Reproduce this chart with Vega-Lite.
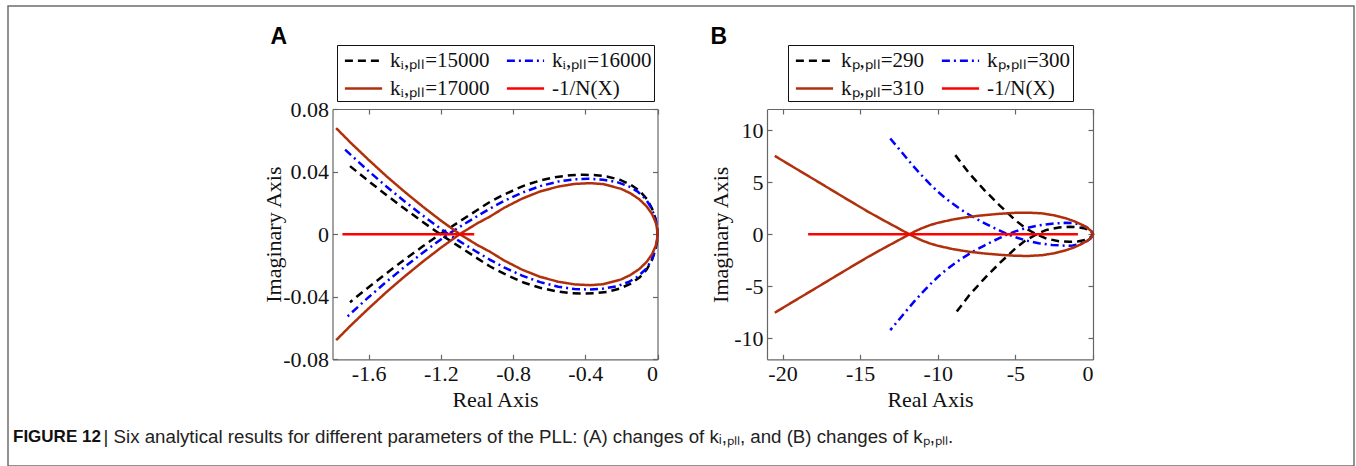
{
"$schema": "https://vega.github.io/schema/vega-lite/v6.json",
"width": 1346, "height": 460,
"autosize": "none",
"padding": {"left": 8, "top": 6, "right": 2, "bottom": 0},
"background": "white",
"title": {"text": "FIGURE 12", "orient": "bottom", "anchor": "start", "frame": "group", "offset": 0, "dx": 5, "dy": -24, "baseline": "alphabetic", "font": "Liberation Sans", "fontSize": 17, "fontWeight": "bold", "color": "#111"},
"config": {
  "view": {"stroke": "#6e6e6e", "strokeWidth": 1.5},
  "axis": {"grid": false, "domainColor": "#666", "domainWidth": 1.2, "tickColor": "#666", "tickWidth": 1.2, "tickSize": -5, "labelFont": "Liberation Serif", "labelFontSize": 22, "labelColor": "#111", "titleFont": "Liberation Serif", "titleFontSize": 22, "titleFontWeight": "normal", "titleColor": "#111"},
  "legend": {"symbolType": "M-1.55,0H1.55", "symbolSize": 576, "symbolStrokeWidth": 2.5, "symbolOffset": 11, "labelFont": "Liberation Serif", "labelFontSize": 21, "labelColor": "#111", "labelOffset": 13, "columnPadding": 11, "rowPadding": 4, "padding": 2, "strokeColor": "#111", "fillColor": "white", "labelLimit": 400, "direction": "horizontal"}
},
"datasets": {
"a": [
{"s":"kᵢ,ₚₗₗ=15000","i":1,"x":-1.703,"y":0.0435},{"s":"kᵢ,ₚₗₗ=15000","i":2,"x":-1.6,"y":0.0339},{"s":"kᵢ,ₚₗₗ=15000","i":3,"x":-1.5,"y":0.0249},{"s":"kᵢ,ₚₗₗ=15000","i":4,"x":-1.4,"y":0.0162},{"s":"kᵢ,ₚₗₗ=15000","i":5,"x":-1.3,"y":0.0078},{"s":"kᵢ,ₚₗₗ=15000","i":6,"x":-1.204,"y":0},{"s":"kᵢ,ₚₗₗ=15000","i":7,"x":-1.1,"y":-0.0078},{"s":"kᵢ,ₚₗₗ=15000","i":8,"x":-1,"y":-0.0153},{"s":"kᵢ,ₚₗₗ=15000","i":9,"x":-0.927,"y":-0.0207},{"s":"kᵢ,ₚₗₗ=15000","i":10,"x":-0.85,"y":-0.0253},{"s":"kᵢ,ₚₗₗ=15000","i":11,"x":-0.742,"y":-0.0309},{"s":"kᵢ,ₚₗₗ=15000","i":12,"x":-0.65,"y":-0.0343},{"s":"kᵢ,ₚₗₗ=15000","i":13,"x":-0.558,"y":-0.0366},{"s":"kᵢ,ₚₗₗ=15000","i":14,"x":-0.48,"y":-0.0377},{"s":"kᵢ,ₚₗₗ=15000","i":15,"x":-0.41,"y":-0.038},{"s":"kᵢ,ₚₗₗ=15000","i":16,"x":-0.34,"y":-0.0377},{"s":"kᵢ,ₚₗₗ=15000","i":17,"x":-0.281,"y":-0.0369},{"s":"kᵢ,ₚₗₗ=15000","i":18,"x":-0.21,"y":-0.0348},{"s":"kᵢ,ₚₗₗ=15000","i":19,"x":-0.151,"y":-0.0318},{"s":"kᵢ,ₚₗₗ=15000","i":20,"x":-0.1,"y":-0.0278},{"s":"kᵢ,ₚₗₗ=15000","i":21,"x":-0.059,"y":-0.0225},{"s":"kᵢ,ₚₗₗ=15000","i":22,"x":-0.03,"y":-0.0163},{"s":"kᵢ,ₚₗₗ=15000","i":23,"x":-0.012,"y":-0.0103},{"s":"kᵢ,ₚₗₗ=15000","i":24,"x":-0.003,"y":-0.005},{"s":"kᵢ,ₚₗₗ=15000","i":25,"x":0,"y":0},{"s":"kᵢ,ₚₗₗ=15000","i":26,"x":-0.003,"y":0.005},{"s":"kᵢ,ₚₗₗ=15000","i":27,"x":-0.012,"y":0.0103},{"s":"kᵢ,ₚₗₗ=15000","i":28,"x":-0.03,"y":0.0163},{"s":"kᵢ,ₚₗₗ=15000","i":29,"x":-0.059,"y":0.0225},{"s":"kᵢ,ₚₗₗ=15000","i":30,"x":-0.1,"y":0.0278},{"s":"kᵢ,ₚₗₗ=15000","i":31,"x":-0.151,"y":0.0318},{"s":"kᵢ,ₚₗₗ=15000","i":32,"x":-0.21,"y":0.0348},{"s":"kᵢ,ₚₗₗ=15000","i":33,"x":-0.281,"y":0.0369},{"s":"kᵢ,ₚₗₗ=15000","i":34,"x":-0.34,"y":0.0377},{"s":"kᵢ,ₚₗₗ=15000","i":35,"x":-0.41,"y":0.038},{"s":"kᵢ,ₚₗₗ=15000","i":36,"x":-0.48,"y":0.0377},{"s":"kᵢ,ₚₗₗ=15000","i":37,"x":-0.558,"y":0.0366},{"s":"kᵢ,ₚₗₗ=15000","i":38,"x":-0.65,"y":0.0343},{"s":"kᵢ,ₚₗₗ=15000","i":39,"x":-0.742,"y":0.0309},{"s":"kᵢ,ₚₗₗ=15000","i":40,"x":-0.85,"y":0.0253},{"s":"kᵢ,ₚₗₗ=15000","i":41,"x":-0.927,"y":0.0207},{"s":"kᵢ,ₚₗₗ=15000","i":42,"x":-1,"y":0.0153},{"s":"kᵢ,ₚₗₗ=15000","i":43,"x":-1.1,"y":0.0078},{"s":"kᵢ,ₚₗₗ=15000","i":44,"x":-1.204,"y":0},{"s":"kᵢ,ₚₗₗ=15000","i":45,"x":-1.3,"y":-0.0078},{"s":"kᵢ,ₚₗₗ=15000","i":46,"x":-1.4,"y":-0.0162},{"s":"kᵢ,ₚₗₗ=15000","i":47,"x":-1.5,"y":-0.0249},{"s":"kᵢ,ₚₗₗ=15000","i":48,"x":-1.6,"y":-0.0339},{"s":"kᵢ,ₚₗₗ=15000","i":49,"x":-1.703,"y":-0.0435},
{"s":"kᵢ,ₚₗₗ=16000","i":1,"x":-1.73,"y":0.054},{"s":"kᵢ,ₚₗₗ=16000","i":2,"x":-1.6,"y":0.0403},{"s":"kᵢ,ₚₗₗ=16000","i":3,"x":-1.5,"y":0.0303},{"s":"kᵢ,ₚₗₗ=16000","i":4,"x":-1.4,"y":0.0209},{"s":"kᵢ,ₚₗₗ=16000","i":5,"x":-1.3,"y":0.0119},{"s":"kᵢ,ₚₗₗ=16000","i":6,"x":-1.2,"y":0.0034},{"s":"kᵢ,ₚₗₗ=16000","i":7,"x":-1.158,"y":0},{"s":"kᵢ,ₚₗₗ=16000","i":8,"x":-1.1,"y":-0.0043},{"s":"kᵢ,ₚₗₗ=16000","i":9,"x":-1,"y":-0.0114},{"s":"kᵢ,ₚₗₗ=16000","i":10,"x":-0.927,"y":-0.0164},{"s":"kᵢ,ₚₗₗ=16000","i":11,"x":-0.85,"y":-0.0212},{"s":"kᵢ,ₚₗₗ=16000","i":12,"x":-0.75,"y":-0.0265},{"s":"kᵢ,ₚₗₗ=16000","i":13,"x":-0.65,"y":-0.0307},{"s":"kᵢ,ₚₗₗ=16000","i":14,"x":-0.55,"y":-0.0336},{"s":"kᵢ,ₚₗₗ=16000","i":15,"x":-0.46,"y":-0.0351},{"s":"kᵢ,ₚₗₗ=16000","i":16,"x":-0.38,"y":-0.0354},{"s":"kᵢ,ₚₗₗ=16000","i":17,"x":-0.3,"y":-0.0348},{"s":"kᵢ,ₚₗₗ=16000","i":18,"x":-0.225,"y":-0.0333},{"s":"kᵢ,ₚₗₗ=16000","i":19,"x":-0.16,"y":-0.0306},{"s":"kᵢ,ₚₗₗ=16000","i":20,"x":-0.11,"y":-0.0272},{"s":"kᵢ,ₚₗₗ=16000","i":21,"x":-0.065,"y":-0.0224},{"s":"kᵢ,ₚₗₗ=16000","i":22,"x":-0.033,"y":-0.0166},{"s":"kᵢ,ₚₗₗ=16000","i":23,"x":-0.012,"y":-0.01},{"s":"kᵢ,ₚₗₗ=16000","i":24,"x":-0.003,"y":-0.005},{"s":"kᵢ,ₚₗₗ=16000","i":25,"x":0,"y":0},{"s":"kᵢ,ₚₗₗ=16000","i":26,"x":-0.003,"y":0.005},{"s":"kᵢ,ₚₗₗ=16000","i":27,"x":-0.012,"y":0.01},{"s":"kᵢ,ₚₗₗ=16000","i":28,"x":-0.033,"y":0.0166},{"s":"kᵢ,ₚₗₗ=16000","i":29,"x":-0.065,"y":0.0224},{"s":"kᵢ,ₚₗₗ=16000","i":30,"x":-0.11,"y":0.0272},{"s":"kᵢ,ₚₗₗ=16000","i":31,"x":-0.16,"y":0.0306},{"s":"kᵢ,ₚₗₗ=16000","i":32,"x":-0.225,"y":0.0333},{"s":"kᵢ,ₚₗₗ=16000","i":33,"x":-0.3,"y":0.0348},{"s":"kᵢ,ₚₗₗ=16000","i":34,"x":-0.38,"y":0.0354},{"s":"kᵢ,ₚₗₗ=16000","i":35,"x":-0.46,"y":0.0351},{"s":"kᵢ,ₚₗₗ=16000","i":36,"x":-0.55,"y":0.0336},{"s":"kᵢ,ₚₗₗ=16000","i":37,"x":-0.65,"y":0.0307},{"s":"kᵢ,ₚₗₗ=16000","i":38,"x":-0.75,"y":0.0265},{"s":"kᵢ,ₚₗₗ=16000","i":39,"x":-0.85,"y":0.0212},{"s":"kᵢ,ₚₗₗ=16000","i":40,"x":-0.927,"y":0.0164},{"s":"kᵢ,ₚₗₗ=16000","i":41,"x":-1,"y":0.0114},{"s":"kᵢ,ₚₗₗ=16000","i":42,"x":-1.1,"y":0.0043},{"s":"kᵢ,ₚₗₗ=16000","i":43,"x":-1.158,"y":0},{"s":"kᵢ,ₚₗₗ=16000","i":44,"x":-1.2,"y":-0.0034},{"s":"kᵢ,ₚₗₗ=16000","i":45,"x":-1.3,"y":-0.0119},{"s":"kᵢ,ₚₗₗ=16000","i":46,"x":-1.4,"y":-0.0209},{"s":"kᵢ,ₚₗₗ=16000","i":47,"x":-1.5,"y":-0.0303},{"s":"kᵢ,ₚₗₗ=16000","i":48,"x":-1.6,"y":-0.0403},{"s":"kᵢ,ₚₗₗ=16000","i":49,"x":-1.73,"y":-0.054},
{"s":"kᵢ,ₚₗₗ=17000","i":1,"x":-1.78,"y":0.0678},{"s":"kᵢ,ₚₗₗ=17000","i":2,"x":-1.7,"y":0.0585},{"s":"kᵢ,ₚₗₗ=17000","i":3,"x":-1.6,"y":0.0475},{"s":"kᵢ,ₚₗₗ=17000","i":4,"x":-1.5,"y":0.0369},{"s":"kᵢ,ₚₗₗ=17000","i":5,"x":-1.4,"y":0.027},{"s":"kᵢ,ₚₗₗ=17000","i":6,"x":-1.3,"y":0.0176},{"s":"kᵢ,ₚₗₗ=17000","i":7,"x":-1.2,"y":0.0087},{"s":"kᵢ,ₚₗₗ=17000","i":8,"x":-1.095,"y":0},{"s":"kᵢ,ₚₗₗ=17000","i":9,"x":-1,"y":-0.0068},{"s":"kᵢ,ₚₗₗ=17000","i":10,"x":-0.927,"y":-0.0113},{"s":"kᵢ,ₚₗₗ=17000","i":11,"x":-0.85,"y":-0.0168},{"s":"kᵢ,ₚₗₗ=17000","i":12,"x":-0.75,"y":-0.0227},{"s":"kᵢ,ₚₗₗ=17000","i":13,"x":-0.65,"y":-0.0273},{"s":"kᵢ,ₚₗₗ=17000","i":14,"x":-0.55,"y":-0.0304},{"s":"kᵢ,ₚₗₗ=17000","i":15,"x":-0.46,"y":-0.0321},{"s":"kᵢ,ₚₗₗ=17000","i":16,"x":-0.373,"y":-0.0326},{"s":"kᵢ,ₚₗₗ=17000","i":17,"x":-0.3,"y":-0.032},{"s":"kᵢ,ₚₗₗ=17000","i":18,"x":-0.2,"y":-0.0289},{"s":"kᵢ,ₚₗₗ=17000","i":19,"x":-0.15,"y":-0.0261},{"s":"kᵢ,ₚₗₗ=17000","i":20,"x":-0.1,"y":-0.0222},{"s":"kᵢ,ₚₗₗ=17000","i":21,"x":-0.06,"y":-0.0177},{"s":"kᵢ,ₚₗₗ=17000","i":22,"x":-0.03,"y":-0.0128},{"s":"kᵢ,ₚₗₗ=17000","i":23,"x":-0.01,"y":-0.0075},{"s":"kᵢ,ₚₗₗ=17000","i":24,"x":-0.002,"y":-0.0035},{"s":"kᵢ,ₚₗₗ=17000","i":25,"x":0,"y":0},{"s":"kᵢ,ₚₗₗ=17000","i":26,"x":-0.002,"y":0.0035},{"s":"kᵢ,ₚₗₗ=17000","i":27,"x":-0.01,"y":0.0075},{"s":"kᵢ,ₚₗₗ=17000","i":28,"x":-0.03,"y":0.0128},{"s":"kᵢ,ₚₗₗ=17000","i":29,"x":-0.06,"y":0.0177},{"s":"kᵢ,ₚₗₗ=17000","i":30,"x":-0.1,"y":0.0222},{"s":"kᵢ,ₚₗₗ=17000","i":31,"x":-0.15,"y":0.0261},{"s":"kᵢ,ₚₗₗ=17000","i":32,"x":-0.2,"y":0.0289},{"s":"kᵢ,ₚₗₗ=17000","i":33,"x":-0.3,"y":0.032},{"s":"kᵢ,ₚₗₗ=17000","i":34,"x":-0.373,"y":0.0326},{"s":"kᵢ,ₚₗₗ=17000","i":35,"x":-0.46,"y":0.0321},{"s":"kᵢ,ₚₗₗ=17000","i":36,"x":-0.55,"y":0.0304},{"s":"kᵢ,ₚₗₗ=17000","i":37,"x":-0.65,"y":0.0273},{"s":"kᵢ,ₚₗₗ=17000","i":38,"x":-0.75,"y":0.0227},{"s":"kᵢ,ₚₗₗ=17000","i":39,"x":-0.85,"y":0.0168},{"s":"kᵢ,ₚₗₗ=17000","i":40,"x":-0.927,"y":0.0113},{"s":"kᵢ,ₚₗₗ=17000","i":41,"x":-1,"y":0.0068},{"s":"kᵢ,ₚₗₗ=17000","i":42,"x":-1.095,"y":0},{"s":"kᵢ,ₚₗₗ=17000","i":43,"x":-1.2,"y":-0.0087},{"s":"kᵢ,ₚₗₗ=17000","i":44,"x":-1.3,"y":-0.0176},{"s":"kᵢ,ₚₗₗ=17000","i":45,"x":-1.4,"y":-0.027},{"s":"kᵢ,ₚₗₗ=17000","i":46,"x":-1.5,"y":-0.0369},{"s":"kᵢ,ₚₗₗ=17000","i":47,"x":-1.6,"y":-0.0475},{"s":"kᵢ,ₚₗₗ=17000","i":48,"x":-1.7,"y":-0.0585},{"s":"kᵢ,ₚₗₗ=17000","i":49,"x":-1.78,"y":-0.0678},
{"s":"-1/N(X)","i":1,"x":-1.745,"y":0},{"s":"-1/N(X)","i":2,"x":-1.015,"y":0}
],
"b": [
{"s":"kₚ,ₚₗₗ=290","i":1,"x":-8.87,"y":7.6},{"s":"kₚ,ₚₗₗ=290","i":2,"x":-8,"y":5.9},{"s":"kₚ,ₚₗₗ=290","i":3,"x":-7,"y":4.25},{"s":"kₚ,ₚₗₗ=290","i":4,"x":-6,"y":2.75},{"s":"kₚ,ₚₗₗ=290","i":5,"x":-5,"y":1.35},{"s":"kₚ,ₚₗₗ=290","i":6,"x":-4.36,"y":0.6},{"s":"kₚ,ₚₗₗ=290","i":7,"x":-3.65,"y":0},{"s":"kₚ,ₚₗₗ=290","i":8,"x":-3,"y":-0.42},{"s":"kₚ,ₚₗₗ=290","i":9,"x":-2.2,"y":-0.66},{"s":"kₚ,ₚₗₗ=290","i":10,"x":-1.5,"y":-0.72},{"s":"kₚ,ₚₗₗ=290","i":11,"x":-1,"y":-0.7},{"s":"kₚ,ₚₗₗ=290","i":12,"x":-0.5,"y":-0.55},{"s":"kₚ,ₚₗₗ=290","i":13,"x":-0.15,"y":-0.3},{"s":"kₚ,ₚₗₗ=290","i":14,"x":0,"y":0},{"s":"kₚ,ₚₗₗ=290","i":15,"x":-0.15,"y":0.3},{"s":"kₚ,ₚₗₗ=290","i":16,"x":-0.5,"y":0.55},{"s":"kₚ,ₚₗₗ=290","i":17,"x":-1,"y":0.7},{"s":"kₚ,ₚₗₗ=290","i":18,"x":-1.5,"y":0.72},{"s":"kₚ,ₚₗₗ=290","i":19,"x":-2.2,"y":0.66},{"s":"kₚ,ₚₗₗ=290","i":20,"x":-3,"y":0.42},{"s":"kₚ,ₚₗₗ=290","i":21,"x":-3.65,"y":0},{"s":"kₚ,ₚₗₗ=290","i":22,"x":-4.36,"y":-0.6},{"s":"kₚ,ₚₗₗ=290","i":23,"x":-5,"y":-1.35},{"s":"kₚ,ₚₗₗ=290","i":24,"x":-6,"y":-2.75},{"s":"kₚ,ₚₗₗ=290","i":25,"x":-7,"y":-4.25},{"s":"kₚ,ₚₗₗ=290","i":26,"x":-8,"y":-5.9},{"s":"kₚ,ₚₗₗ=290","i":27,"x":-8.87,"y":-7.6},
{"s":"kₚ,ₚₗₗ=300","i":1,"x":-13.06,"y":9.2},{"s":"kₚ,ₚₗₗ=300","i":2,"x":-12.5,"y":8.2},{"s":"kₚ,ₚₗₗ=300","i":3,"x":-12,"y":7.3},{"s":"kₚ,ₚₗₗ=300","i":4,"x":-11.5,"y":6.42},{"s":"kₚ,ₚₗₗ=300","i":5,"x":-11,"y":5.6},{"s":"kₚ,ₚₗₗ=300","i":6,"x":-10.5,"y":4.82},{"s":"kₚ,ₚₗₗ=300","i":7,"x":-10,"y":4.1},{"s":"kₚ,ₚₗₗ=300","i":8,"x":-9.5,"y":3.46},{"s":"kₚ,ₚₗₗ=300","i":9,"x":-9,"y":2.9},{"s":"kₚ,ₚₗₗ=300","i":10,"x":-8.5,"y":2.37},{"s":"kₚ,ₚₗₗ=300","i":11,"x":-8,"y":1.9},{"s":"kₚ,ₚₗₗ=300","i":12,"x":-7.5,"y":1.47},{"s":"kₚ,ₚₗₗ=300","i":13,"x":-7,"y":1.08},{"s":"kₚ,ₚₗₗ=300","i":14,"x":-6.5,"y":0.7},{"s":"kₚ,ₚₗₗ=300","i":15,"x":-6,"y":0.35},{"s":"kₚ,ₚₗₗ=300","i":16,"x":-5.5,"y":0},{"s":"kₚ,ₚₗₗ=300","i":17,"x":-5,"y":-0.28},{"s":"kₚ,ₚₗₗ=300","i":18,"x":-4.36,"y":-0.58},{"s":"kₚ,ₚₗₗ=300","i":19,"x":-3.5,"y":-0.86},{"s":"kₚ,ₚₗₗ=300","i":20,"x":-2.64,"y":-1.02},{"s":"kₚ,ₚₗₗ=300","i":21,"x":-1.8,"y":-1.1},{"s":"kₚ,ₚₗₗ=300","i":22,"x":-1.3,"y":-1.08},{"s":"kₚ,ₚₗₗ=300","i":23,"x":-0.85,"y":-0.95},{"s":"kₚ,ₚₗₗ=300","i":24,"x":-0.45,"y":-0.72},{"s":"kₚ,ₚₗₗ=300","i":25,"x":-0.15,"y":-0.4},{"s":"kₚ,ₚₗₗ=300","i":26,"x":0,"y":0},{"s":"kₚ,ₚₗₗ=300","i":27,"x":-0.15,"y":0.4},{"s":"kₚ,ₚₗₗ=300","i":28,"x":-0.45,"y":0.72},{"s":"kₚ,ₚₗₗ=300","i":29,"x":-0.85,"y":0.95},{"s":"kₚ,ₚₗₗ=300","i":30,"x":-1.3,"y":1.08},{"s":"kₚ,ₚₗₗ=300","i":31,"x":-1.8,"y":1.1},{"s":"kₚ,ₚₗₗ=300","i":32,"x":-2.64,"y":1.02},{"s":"kₚ,ₚₗₗ=300","i":33,"x":-3.5,"y":0.86},{"s":"kₚ,ₚₗₗ=300","i":34,"x":-4.36,"y":0.58},{"s":"kₚ,ₚₗₗ=300","i":35,"x":-5,"y":0.28},{"s":"kₚ,ₚₗₗ=300","i":36,"x":-5.5,"y":0},{"s":"kₚ,ₚₗₗ=300","i":37,"x":-6,"y":-0.35},{"s":"kₚ,ₚₗₗ=300","i":38,"x":-6.5,"y":-0.7},{"s":"kₚ,ₚₗₗ=300","i":39,"x":-7,"y":-1.08},{"s":"kₚ,ₚₗₗ=300","i":40,"x":-7.5,"y":-1.47},{"s":"kₚ,ₚₗₗ=300","i":41,"x":-8,"y":-1.9},{"s":"kₚ,ₚₗₗ=300","i":42,"x":-8.5,"y":-2.37},{"s":"kₚ,ₚₗₗ=300","i":43,"x":-9,"y":-2.9},{"s":"kₚ,ₚₗₗ=300","i":44,"x":-9.5,"y":-3.46},{"s":"kₚ,ₚₗₗ=300","i":45,"x":-10,"y":-4.1},{"s":"kₚ,ₚₗₗ=300","i":46,"x":-10.5,"y":-4.82},{"s":"kₚ,ₚₗₗ=300","i":47,"x":-11,"y":-5.6},{"s":"kₚ,ₚₗₗ=300","i":48,"x":-11.5,"y":-6.42},{"s":"kₚ,ₚₗₗ=300","i":49,"x":-12,"y":-7.3},{"s":"kₚ,ₚₗₗ=300","i":50,"x":-12.5,"y":-8.2},{"s":"kₚ,ₚₗₗ=300","i":51,"x":-13.06,"y":-9.2},
{"s":"kₚ,ₚₗₗ=310","i":1,"x":-20.5,"y":7.53},{"s":"kₚ,ₚₗₗ=310","i":2,"x":-19.5,"y":6.63},{"s":"kₚ,ₚₗₗ=310","i":3,"x":-18.5,"y":5.74},{"s":"kₚ,ₚₗₗ=310","i":4,"x":-17.5,"y":4.85},{"s":"kₚ,ₚₗₗ=310","i":5,"x":-16.5,"y":3.95},{"s":"kₚ,ₚₗₗ=310","i":6,"x":-15.5,"y":3.06},{"s":"kₚ,ₚₗₗ=310","i":7,"x":-14.5,"y":2.18},{"s":"kₚ,ₚₗₗ=310","i":8,"x":-13.5,"y":1.35},{"s":"kₚ,ₚₗₗ=310","i":9,"x":-12.5,"y":0.55},{"s":"kₚ,ₚₗₗ=310","i":10,"x":-11.83,"y":0},{"s":"kₚ,ₚₗₗ=310","i":11,"x":-11.4,"y":-0.33},{"s":"kₚ,ₚₗₗ=310","i":12,"x":-11,"y":-0.6},{"s":"kₚ,ₚₗₗ=310","i":13,"x":-10.5,"y":-0.88},{"s":"kₚ,ₚₗₗ=310","i":14,"x":-10,"y":-1.1},{"s":"kₚ,ₚₗₗ=310","i":15,"x":-9,"y":-1.43},{"s":"kₚ,ₚₗₗ=310","i":16,"x":-8,"y":-1.67},{"s":"kₚ,ₚₗₗ=310","i":17,"x":-7,"y":-1.84},{"s":"kₚ,ₚₗₗ=310","i":18,"x":-6,"y":-1.97},{"s":"kₚ,ₚₗₗ=310","i":19,"x":-5,"y":-2.06},{"s":"kₚ,ₚₗₗ=310","i":20,"x":-4.2,"y":-2.08},{"s":"kₚ,ₚₗₗ=310","i":21,"x":-3.29,"y":-2.01},{"s":"kₚ,ₚₗₗ=310","i":22,"x":-2.5,"y":-1.82},{"s":"kₚ,ₚₗₗ=310","i":23,"x":-1.78,"y":-1.55},{"s":"kₚ,ₚₗₗ=310","i":24,"x":-1.2,"y":-1.25},{"s":"kₚ,ₚₗₗ=310","i":25,"x":-0.71,"y":-0.91},{"s":"kₚ,ₚₗₗ=310","i":26,"x":-0.35,"y":-0.6},{"s":"kₚ,ₚₗₗ=310","i":27,"x":-0.1,"y":-0.3},{"s":"kₚ,ₚₗₗ=310","i":28,"x":0,"y":0},{"s":"kₚ,ₚₗₗ=310","i":29,"x":-0.1,"y":0.3},{"s":"kₚ,ₚₗₗ=310","i":30,"x":-0.35,"y":0.6},{"s":"kₚ,ₚₗₗ=310","i":31,"x":-0.71,"y":0.91},{"s":"kₚ,ₚₗₗ=310","i":32,"x":-1.2,"y":1.25},{"s":"kₚ,ₚₗₗ=310","i":33,"x":-1.78,"y":1.55},{"s":"kₚ,ₚₗₗ=310","i":34,"x":-2.5,"y":1.82},{"s":"kₚ,ₚₗₗ=310","i":35,"x":-3.29,"y":2.01},{"s":"kₚ,ₚₗₗ=310","i":36,"x":-4.2,"y":2.08},{"s":"kₚ,ₚₗₗ=310","i":37,"x":-5,"y":2.06},{"s":"kₚ,ₚₗₗ=310","i":38,"x":-6,"y":1.97},{"s":"kₚ,ₚₗₗ=310","i":39,"x":-7,"y":1.84},{"s":"kₚ,ₚₗₗ=310","i":40,"x":-8,"y":1.67},{"s":"kₚ,ₚₗₗ=310","i":41,"x":-9,"y":1.43},{"s":"kₚ,ₚₗₗ=310","i":42,"x":-10,"y":1.1},{"s":"kₚ,ₚₗₗ=310","i":43,"x":-10.5,"y":0.88},{"s":"kₚ,ₚₗₗ=310","i":44,"x":-11,"y":0.6},{"s":"kₚ,ₚₗₗ=310","i":45,"x":-11.4,"y":0.33},{"s":"kₚ,ₚₗₗ=310","i":46,"x":-11.83,"y":0},{"s":"kₚ,ₚₗₗ=310","i":47,"x":-12.5,"y":-0.55},{"s":"kₚ,ₚₗₗ=310","i":48,"x":-13.5,"y":-1.35},{"s":"kₚ,ₚₗₗ=310","i":49,"x":-14.5,"y":-2.18},{"s":"kₚ,ₚₗₗ=310","i":50,"x":-15.5,"y":-3.06},{"s":"kₚ,ₚₗₗ=310","i":51,"x":-16.5,"y":-3.95},{"s":"kₚ,ₚₗₗ=310","i":52,"x":-17.5,"y":-4.85},{"s":"kₚ,ₚₗₗ=310","i":53,"x":-18.5,"y":-5.74},{"s":"kₚ,ₚₗₗ=310","i":54,"x":-19.5,"y":-6.63},{"s":"kₚ,ₚₗₗ=310","i":55,"x":-20.5,"y":-7.53},
{"s":"-1/N(X)","i":1,"x":-18.35,"y":0},{"s":"-1/N(X)","i":2,"x":-0.97,"y":0}
]
},
"resolve": {"scale": {"x": "independent", "y": "independent", "color": "independent", "strokeDash": "independent"}, "axis": {"x": "independent", "y": "independent"}, "legend": {"color": "independent", "strokeDash": "independent"}},
"layer": [
{
 "data": {"name": "a"},
 "layer": [
  {
   "mark": {"type": "line", "strokeWidth": 2.5},
   "encoding": {
    "x": {"field": "x", "type": "quantitative", "scale": {"domain": [-1.8, 0], "range": [324.5, 649.5], "nice": false, "zero": false},
          "axis": {"orient": "bottom", "offset": -106.7, "values": [-1.6, -1.2, -0.8, -0.4, 0], "labelExpr": "'' + datum.value", "title": "Real Axis", "labelPadding": 9, "titlePadding": 5}},
    "y": {"field": "y", "type": "quantitative", "scale": {"domain": [-0.08, 0.08], "range": [353.3, 103], "nice": false, "zero": false},
          "axis": {"orient": "left", "offset": -324.5, "values": [-0.08, -0.04, 0, 0.04, 0.08], "labelExpr": "'' + datum.value", "title": "Imaginary Axis", "labelPadding": 9, "titlePadding": -3}},
    "color": {"field": "s", "type": "nominal", "scale": {"domain": ["kᵢ,ₚₗₗ=15000", "kᵢ,ₚₗₗ=16000", "kᵢ,ₚₗₗ=17000", "-1/N(X)"], "range": ["#000000", "#0000ff", "#b0300c", "#ff0000"]},
              "legend": {"title": null, "orient": "none", "legendX": 329, "legendY": 39, "columns": 2}},
    "strokeDash": {"field": "s", "type": "nominal", "scale": {"domain": ["kᵢ,ₚₗₗ=15000", "kᵢ,ₚₗₗ=16000", "kᵢ,ₚₗₗ=17000", "-1/N(X)"], "range": [[8, 5], [8, 4, 2, 4], [1, 0], [1, 0]]},
              "legend": {"title": null, "orient": "none", "legendX": 329, "legendY": 39, "columns": 2}},
    "order": {"field": "i", "type": "quantitative"}
   }
  },
  {
   "mark": {"type": "point", "opacity": 0},
   "encoding": {
    "x": {"field": "x", "type": "quantitative", "scale": {"domain": [-1.8, 0], "range": [324.5, 649.5], "nice": false, "zero": false},
          "axis": {"orient": "top", "offset": -103, "values": [-1.6, -1.2, -0.8, -0.4, 0], "labels": false, "title": "A", "titleX": 262, "titleY": -66, "titleAngle": 0, "titleAlign": "left", "titleBaseline": "alphabetic", "titleFont": "Liberation Sans", "titleFontSize": 23, "titleFontWeight": "bold", "titleColor": "#000"}},
    "y": {"field": "y", "type": "quantitative", "scale": {"domain": [-0.08, 0.08], "range": [353.3, 103], "nice": false, "zero": false},
          "axis": {"orient": "right", "offset": -696.5, "values": [-0.08, -0.04, 0, 0.04, 0.08], "labels": false, "title": "| Six analytical results for different parameters of the PLL: (A) changes of kᵢ,ₚₗₗ, and (B) changes of kₚ,ₚₗₗ.", "titleX": -554.5, "titleY": 436, "titleAngle": 0, "titleAlign": "left", "titleBaseline": "alphabetic", "titleFont": "Liberation Sans", "titleFontSize": 18.7, "titleFontWeight": "normal", "titleColor": "#222"}}
   }
  }
 ]
},
{
 "data": {"name": "b"},
 "layer": [
  {
   "mark": {"type": "line", "strokeWidth": 2.5},
   "encoding": {
    "x": {"field": "x", "type": "quantitative", "scale": {"domain": [-21, 0], "range": [759, 1085], "nice": false, "zero": false},
          "axis": {"orient": "bottom", "offset": -106.7, "values": [-20, -15, -10, -5, 0], "labelExpr": "'' + datum.value", "title": "Real Axis", "labelPadding": 9, "titlePadding": 5}},
    "y": {"field": "y", "type": "quantitative", "scale": {"domain": [-12, 12], "range": [353.3, 103.3], "nice": false, "zero": false},
          "axis": {"orient": "left", "offset": -759, "values": [-10, -5, 0, 5, 10], "labelExpr": "'' + datum.value", "title": "Imaginary Axis", "labelPadding": 9, "titlePadding": 1}},
    "color": {"field": "s", "type": "nominal", "scale": {"domain": ["kₚ,ₚₗₗ=290", "kₚ,ₚₗₗ=300", "kₚ,ₚₗₗ=310", "-1/N(X)"], "range": ["#000000", "#0000ff", "#b0300c", "#ff0000"]},
              "legend": {"title": null, "orient": "none", "legendX": 780, "legendY": 39, "columns": 2}},
    "strokeDash": {"field": "s", "type": "nominal", "scale": {"domain": ["kₚ,ₚₗₗ=290", "kₚ,ₚₗₗ=300", "kₚ,ₚₗₗ=310", "-1/N(X)"], "range": [[8, 5], [8, 4, 2, 4], [1, 0], [1, 0]]},
              "legend": {"title": null, "orient": "none", "legendX": 780, "legendY": 39, "columns": 2}},
    "order": {"field": "i", "type": "quantitative"}
   }
  },
  {
   "mark": {"type": "point", "opacity": 0},
   "encoding": {
    "x": {"field": "x", "type": "quantitative", "scale": {"domain": [-21, 0], "range": [759, 1085], "nice": false, "zero": false},
          "axis": {"orient": "top", "offset": -103, "values": [-20, -15, -10, -5, 0], "labels": false, "title": "B", "titleX": 702, "titleY": -66, "titleAngle": 0, "titleAlign": "left", "titleBaseline": "alphabetic", "titleFont": "Liberation Sans", "titleFontSize": 23, "titleFontWeight": "bold", "titleColor": "#000"}},
    "y": {"field": "y", "type": "quantitative", "scale": {"domain": [-12, 12], "range": [353.3, 103.3], "nice": false, "zero": false},
          "axis": {"orient": "right", "offset": -261, "values": [-10, -5, 0, 5, 10], "labels": false, "title": null}}
   }
  }
 ]
}
]
}
